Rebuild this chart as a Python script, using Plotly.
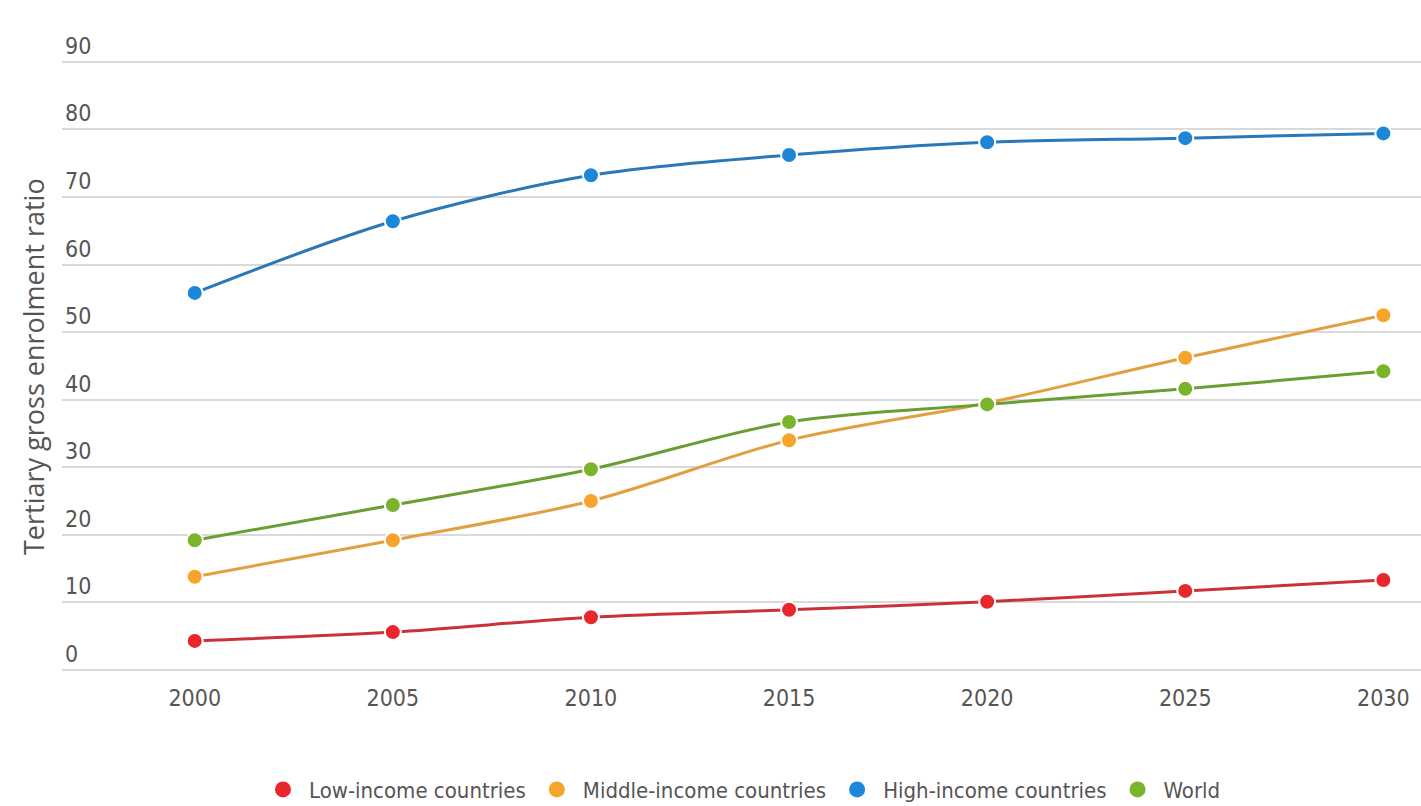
import plotly.graph_objects as go

years = [2000, 2005, 2010, 2015, 2020, 2025, 2030]
low_income = [4.3, 5.6, 7.8, 8.9, 10.1, 11.7, 13.3]
middle_income = [13.8, 19.2, 25.0, 34.0, 39.5, 46.2, 52.5]
high_income = [55.8, 66.4, 73.2, 76.2, 78.1, 78.7, 79.4]
world = [19.2, 24.4, 29.7, 36.7, 39.3, 41.6, 44.2]
y_title = "Tertiary gross enrolment ratio"

series = [
    ("Low-income countries", low_income, "#e8262b", "#c8333a"),
    ("Middle-income countries", middle_income, "#f6a42c", "#e0a040"),
    ("High-income countries", high_income, "#1c86d8", "#2a78b8"),
    ("World", world, "#79b42a", "#6a9e32"),
]

narrow = "Liberation Sans Narrow, DejaVu Sans Condensed, Arial Narrow, sans-serif"

fig = go.Figure()
for name, vals, mcol, lcol in series:
    fig.add_trace(go.Scatter(
        x=years, y=vals, name=name, mode="lines+markers",
        line=dict(color=lcol, width=3, shape="spline", smoothing=0.9),
        marker=dict(size=16, color=mcol, line=dict(color="white", width=2)),
        showlegend=False, legendgroup=name,
    ))
for name, vals, mcol, lcol in series:
    fig.add_trace(go.Scatter(
        x=[None], y=[None], name=name, mode="markers",
        marker=dict(size=22, color=mcol), legendgroup=name,
    ))

fig.add_annotation(
    text=y_title, textangle=-90, showarrow=False,
    xref="paper", yref="paper", x=(33 - 62) / 1359, y=(674 - 367) / 646,
    xanchor="center", yanchor="middle",
    font=dict(family="Open Sans, Noto Sans, sans-serif", size=27, color="#555555"),
)

fig.update_layout(
    width=1421, height=806,
    margin=dict(l=62, r=0, t=28, b=132, autoexpand=False),
    paper_bgcolor="white", plot_bgcolor="white",
    font=dict(family=narrow, size=22, color="#555555"),
    legend=dict(orientation="h", x=0.5, xanchor="center", y=-0.179, yanchor="middle",
                font=dict(family=narrow, size=22, color="#555555"),
                itemwidth=42, tracegroupgap=0),
    xaxis=dict(range=[1996.65, 2030.95], tickmode="array", tickvals=years,
               showgrid=False, showline=False, automargin=False,
               ticks="", zeroline=False, ticklabelstandoff=8,
               tickfont=dict(family=narrow, size=23, color="#555555")),
    yaxis=dict(range=[-0.6, 95.0], tickmode="array", tickvals=list(range(0, 100, 10)),
               showgrid=True, gridcolor="#d9d9d9", gridwidth=1.5, zeroline=False,
               automargin=False,
               ticks="", ticklabelposition="inside", ticklabelshift=-16,
               tickfont=dict(family=narrow, size=23, color="#555555")),
)

fig.write_html("out.html")
